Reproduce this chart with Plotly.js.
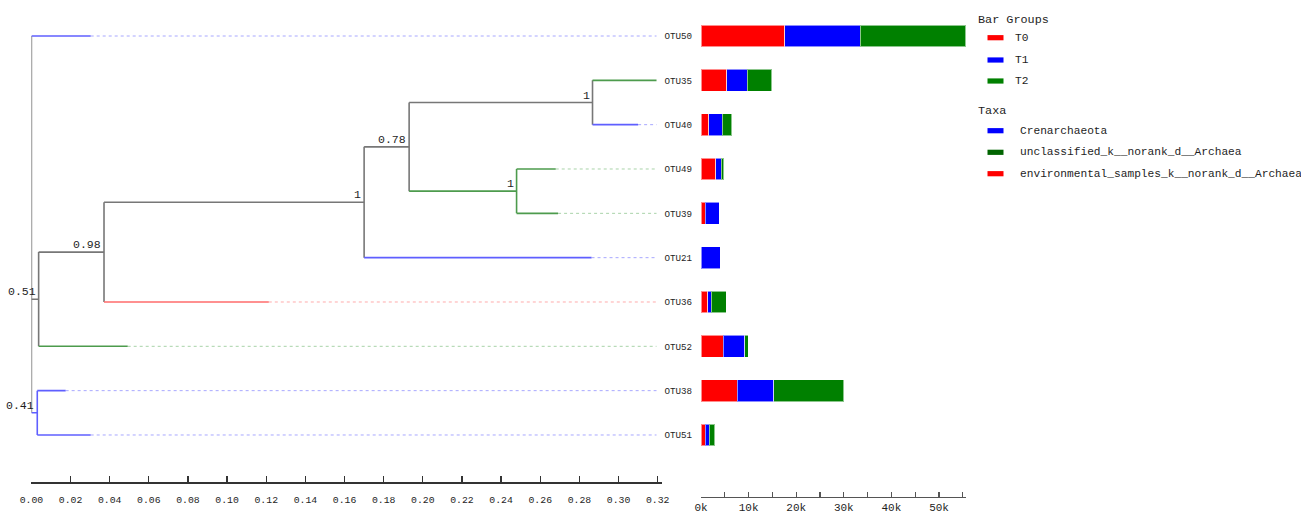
<!DOCTYPE html>
<html><head><meta charset="utf-8">
<script src="https://cdn.plot.ly/plotly-3.0.1.min.js"></script>
<style>html,body{margin:0;padding:0;background:#fff}#chart{width:1301px;height:517px}</style>
</head><body><div id="chart"></div>
<script>
// ---------- data ----------
const leafNames = ['OTU50','OTU35','OTU40','OTU49','OTU39','OTU21','OTU36','OTU52','OTU38','OTU51'];
const leafTaxa = ['Crenarchaeota','unclassified_k__norank_d__Archaea','Crenarchaeota','unclassified_k__norank_d__Archaea','unclassified_k__norank_d__Archaea','Crenarchaeota','environmental_samples_k__norank_d__Archaea','unclassified_k__norank_d__Archaea','Crenarchaeota','Crenarchaeota'];
const nodeName   = ['root','N1','N2','N3','N4','N5','N6','N7','OTU50','OTU35','OTU40','OTU49','OTU39','OTU21','OTU36','OTU52','OTU38','OTU51'];
const nodeParent = [null,'root','N1','N2','N3','N4','N4','root','root','N5','N5','N6','N6','N3','N2','N1','N7','N7'];
const branchLength = [0,0.0037,0.0334,0.1329,0.0230,0.0937,0.0549,0.0030,0.0303,0.0327,0.0233,0.0200,0.0212,0.1162,0.0842,0.0455,0.0145,0.0273];
const nodeSupport = ['', '0.51','0.98','1','0.78','1','1','0.41','','','','','','','','','',''];
const groupNames = ['T0','T1','T2'];
const valuesT0 = [17600,5460,1610,3080,840,0,1400,4690,7630,840];
const valuesT1 = [15800,4270,2870,1190,2940,4060,770,4550,7700,840];
const valuesT2 = [22200,5110,2030,560,0,0,3150,700,14640,1190];
const taxaNames = ['Crenarchaeota','unclassified_k__norank_d__Archaea','environmental_samples_k__norank_d__Archaea'];
const barTickVals = [0,10000,20000,30000,40000,50000];
const barTickText = ['0k','10k','20k','30k','40k','50k'];

// ---------- styles ----------
const FONT = 'Liberation Mono, DejaVu Sans Mono, monospace';
const TXT = '#1e1e1e';
const barColors = ['#ff0000','#0000ff','#008000'];
const taxaLegendColors = ['#0000ff','#006400','#ff0000'];
const treeColors = {'Crenarchaeota':'#5f5fff','unclassified_k__norank_d__Archaea':'#4d9b4d','environmental_samples_k__norank_d__Archaea':'#ff6b6b'};
const dotColors = {'Crenarchaeota':'#a8a8ff','unclassified_k__norank_d__Archaea':'#a9d3a9','environmental_samples_k__norank_d__Archaea':'#ffacac'};
const GRAY = '#777777';

// ---------- tree layout ----------
const idx = {}; nodeName.forEach((n,i)=>idx[n]=i);
const children = nodeName.map(()=>[]);
nodeParent.forEach((p,i)=>{ if(p!==null) children[idx[p]].push(i); });
const depth = new Array(nodeName.length).fill(0);
nodeName.forEach((n,i)=>{ if(nodeParent[i]!==null) depth[i]=depth[idx[nodeParent[i]]]+branchLength[i]; });
const yPos = new Array(nodeName.length);
const taxSet = new Array(nodeName.length);
function layout(i){
  if(children[i].length===0){
    const li = leafNames.indexOf(nodeName[i]);
    yPos[i]=li; taxSet[i]=new Set([leafTaxa[li]]);
  } else {
    let ys=[]; let s=new Set();
    children[i].forEach(c=>{layout(c); ys.push(yPos[c]); taxSet[c].forEach(t=>s.add(t));});
    yPos[i]=(Math.min(...ys)+Math.max(...ys))/2; taxSet[i]=s;
  }
}
layout(0);
const maxDepth = Math.max(...depth);
function nodeColor(i){ return taxSet[i].size===1 ? treeColors[[...taxSet[i]][0]] : GRAY; }

const segs = {}; const dots = {};
function addSeg(store,col,x0,x1,y0,y1){ if(!store[col]) store[col]={x:[],y:[]}; store[col].x.push(x0,x1,null); store[col].y.push(y0,y1,null); }
nodeName.forEach((n,i)=>{
  const col = nodeColor(i);
  if(nodeParent[i]!==null) addSeg(segs,col,depth[idx[nodeParent[i]]],depth[i],yPos[i],yPos[i]);
  if(children[i].length){
    const ys=children[i].map(c=>yPos[c]);
    addSeg(segs,col,depth[i],depth[i],Math.min(...ys),Math.max(...ys));
  } else {
    const t=[...taxSet[i]][0];
    addSeg(dots,dotColors[t],depth[i],maxDepth,yPos[i],yPos[i]);
  }
});

const traces=[];
Object.keys(dots).forEach(c=>traces.push({type:'scatter',mode:'lines',x:dots[c].x,y:dots[c].y,xaxis:'x',yaxis:'y',line:{color:c,width:1,dash:'dot'},hoverinfo:'skip',showlegend:false}));
Object.keys(segs).forEach(c=>traces.push({type:'scatter',mode:'lines',x:segs[c].x,y:segs[c].y,xaxis:'x',yaxis:'y',line:{color:c,width:1.6},hoverinfo:'skip',showlegend:false}));

const leafIdx = leafNames.map((_,i)=>i);
[valuesT0,valuesT1,valuesT2].forEach((v,g)=>traces.push({
  type:'bar',orientation:'h',name:groupNames[g],x:v,y:leafIdx,xaxis:'x2',yaxis:'y',width:0.49,
  marker:{color:barColors[g],line:{color:'rgba(255,255,255,0.55)',width:1}},showlegend:false
}));

// ---------- annotations ----------
const ann=[];
nodeName.forEach((n,i)=>{
  if(nodeSupport[i]) ann.push({x:depth[i],y:yPos[i],xref:'x',yref:'y',text:nodeSupport[i],showarrow:false,xanchor:'right',yanchor:'bottom',xshift:-1,yshift:-1,font:{family:FONT,size:11.5,color:TXT}});
});
const W=1301,H=517;
const px=x=>x/W, py=y=>1-y/H;
const shapes=[];
function legendTitle(text,y){ ann.push({x:px(976),y:py(y),xref:'paper',yref:'paper',text:text,showarrow:false,xanchor:'left',yanchor:'middle',font:{family:FONT,size:11.8,color:TXT}}); }
function legendItem(text,color,y,tx){
  shapes.push({type:'rect',xref:'paper',yref:'paper',x0:px(987.5),x1:px(1003.5),y0:py(y+2.6),y1:py(y-2.6),fillcolor:color,line:{width:0}});
  ann.push({x:px(tx),y:py(y),xref:'paper',yref:'paper',text:text,showarrow:false,xanchor:'left',yanchor:'middle',font:{family:FONT,size:11.2,color:TXT}});
}
legendTitle('Bar Groups',19.5);
groupNames.forEach((g,k)=>legendItem(g,barColors[k],[37.7,60,81][k],1013));
legendTitle('Taxa',111.5);
taxaNames.forEach((t,k)=>legendItem(t,taxaLegendColors[k],[130.7,152.3,173.7][k],1018));

const layoutObj={
  width:W,height:H,margin:{l:0,r:0,t:0,b:0},paper_bgcolor:'#fff',plot_bgcolor:'#fff',
  barmode:'stack',showlegend:false,
  xaxis:{domain:[px(31.4),px(662)],range:[0,0.3222],anchor:'free',position:1-482/H,
    showline:true,linecolor:'#333',linewidth:1.6,ticks:'inside',ticklen:6,tickwidth:1.3,tickcolor:'#333',
    dtick:0.02,tick0:0,tickformat:'.2f',showgrid:false,zeroline:false,ticklabelstandoff:8,
    tickfont:{family:FONT,size:9.8,color:TXT}},
  xaxis2:{domain:[px(701),px(965.7)],range:[0,55600],anchor:'free',position:1-496.5/H,
    showline:true,linecolor:'#555',linewidth:1.5,ticks:'inside',ticklen:5,tickwidth:1.3,tickcolor:'#555',
    tickvals:barTickVals,ticktext:barTickText,showgrid:false,zeroline:false,ticklabelstandoff:0,
    minor:{dtick:5000,tick0:0,ticks:'inside',ticklen:5,tickwidth:1.3,tickcolor:'#555',showgrid:false},
    tickfont:{family:FONT,size:11,color:TXT}},
  yaxis:{domain:[0,1],range:[10.85,-0.812],anchor:'x2',side:'left',showline:false,showgrid:false,zeroline:false,
    tickvals:leafIdx,ticktext:leafNames,ticks:'',ticklabelstandoff:8,tickfont:{family:FONT,size:9.2,color:TXT}},
  annotations:ann,shapes:shapes
};
Plotly.newPlot('chart',traces,layoutObj,{staticPlot:true,displayModeBar:false});
</script></body></html>
